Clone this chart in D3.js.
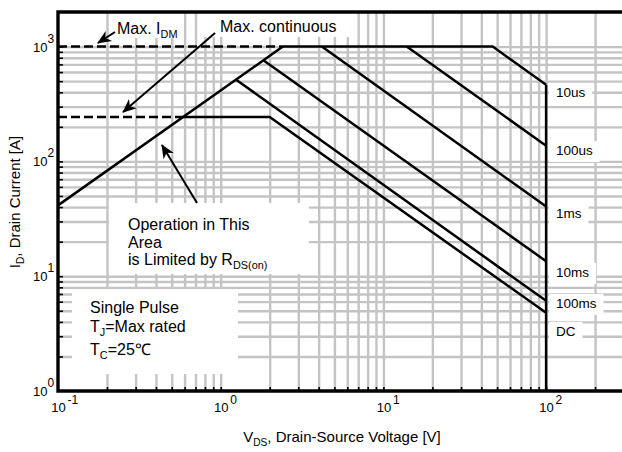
<!DOCTYPE html>
<html>
<head>
<meta charset="utf-8">
<script src="https://cdn.jsdelivr.net/npm/d3@7"></script>
<style>
  body { margin: 0; background: #fff; }
  text { font-family: 'Liberation Sans', Arial, sans-serif; fill: #000; }
</style>
</head>
<body>
<div id="chart"></div>
<script>
// tick exponents for the log axes
const xTickExps = [-1, 0, 1, 2]
const yTickExps = [0, 1, 2, 3]

// limits [V, A]
const rdsLimit = [[0.1, 41.4], [2.41, 1000]]
const idmLimit = [[0.1, 1000], [2.41, 1000]]
const contLimit = [[0.1, 244], [0.59, 244]]
const bvLimit = [[100, 465], [100, 1]]

const curveLabels = ['10us', '100us', '1ms', '10ms', '100ms', 'DC']
const curvePoints = [
  [[2.41, 1000], [47, 1000], [100, 465]],
  [[13.9, 1000], [100, 137]],
  [[4.18, 1000], [100, 40.5]],
  [[1.82, 765], [100, 13.5]],
  [[1.25, 512], [100, 6.1]],
  [[0.59, 244], [2.0, 244], [100, 4.8]]
]

const width = 622
const height = 452

const svg = d3
  .select('#chart')
  .append('svg')
  .attr('width', width)
  .attr('height', height)

const x = d3
  .scaleLog()
  .domain([0.1, 300])
  .range([58, 58 + 162.7 * Math.log10(3000)])

const y = d3
  .scaleLog()
  .domain([1, 2000])
  .range([391, 391 - 114.8 * Math.log10(2000)])

const plotLeft = x(0.1)
const plotRight = 624
const plotTop = y(2000)
const plotBottom = y(1)

// minor grid values
const xGrid = []
d3.range(-1, 3).forEach(e => {
  d3.range(1, 10).forEach(k => {
    const v = k * Math.pow(10, e)
    if (v > 0.1 && v <= 300) xGrid.push(v)
  })
})
const yGrid = []
d3.range(0, 4).forEach(e => {
  d3.range(1, 10).forEach(k => {
    const v = k * Math.pow(10, e)
    if (v > 1 && v < 2000) yGrid.push(v)
  })
})

// grid
svg
  .append('g')
  .attr('class', 'grid')
  .attr('transform', 'translate(0,' + plotBottom + ')')
  .call(
    d3
      .axisBottom(x)
      .tickValues(xGrid)
      .tickSize(-(plotBottom - plotTop))
      .tickFormat('')
  )
svg
  .append('g')
  .attr('class', 'grid')
  .attr('transform', 'translate(' + plotLeft + ',0)')
  .call(
    d3
      .axisLeft(y)
      .tickValues(yGrid)
      .tickSize(-(plotRight - plotLeft))
      .tickFormat('')
  )
svg.selectAll('.grid .domain').remove()
svg.selectAll('.grid text').remove()
svg
  .selectAll('.grid line')
  .attr('stroke', '#c4c4c4')
  .attr('stroke-width', 2.4)

// white boxes over the grid
const boxes = [
  [110, 12, 74, 26],
  [202, 12, 150, 25],
  [109, 203, 200, 71],
  [72, 289, 166, 85]
]
svg
  .selectAll('.box')
  .data(boxes)
  .enter()
  .append('rect')
  .attr('class', 'box')
  .attr('x', d => d[0])
  .attr('y', d => d[1])
  .attr('width', d => d[2])
  .attr('height', d => d[3])
  .attr('fill', '#fff')

// black inward ticks
svg
  .append('g')
  .attr('class', 'ticks')
  .attr('transform', 'translate(0,' + plotBottom + ')')
  .call(
    d3
      .axisBottom(x)
      .tickValues(xGrid)
      .tickSize(-4)
      .tickFormat('')
  )
svg
  .append('g')
  .attr('class', 'ticks')
  .attr('transform', 'translate(' + plotLeft + ',0)')
  .call(
    d3
      .axisLeft(y)
      .tickValues(yGrid)
      .tickSize(-5)
      .tickFormat('')
  )
svg.selectAll('.ticks .domain').remove()
svg.selectAll('.ticks text').remove()
svg
  .selectAll('.ticks line')
  .attr('stroke', '#000')
  .attr('stroke-width', 1.6)

// curve labels on the right
const labelBaselines = [97, 155, 218, 277, 308, 336]
const labels = svg
  .selectAll('.curve-label')
  .data(curveLabels)
  .enter()
  .append('g')
  .attr('class', 'curve-label')
labels
  .append('rect')
  .attr('fill', '#fff')
labels
  .append('text')
  .attr('x', 556)
  .attr('y', (d, i) => labelBaselines[i])
  .attr('font-size', 13.5)
  .text(d => d)
labels.each(function(d, i) {
  const w = d3.select(this).select('text').node().getComputedTextLength()
  d3.select(this)
    .select('rect')
    .attr('x', 549)
    .attr('y', labelBaselines[i] - 14)
    .attr('width', w + 14)
    .attr('height', 21)
})

const line = d3
  .line()
  .x(d => x(d[0]))
  .y(d => y(d[1]))

// limit lines
svg
  .selectAll('.soa')
  .data(curvePoints.concat([rdsLimit, bvLimit]))
  .enter()
  .append('path')
  .attr('class', 'soa')
  .attr('d', line)
  .attr('fill', 'none')
  .attr('stroke', '#000')
  .attr('stroke-width', 2.5)
  .attr('stroke-linejoin', 'miter')

svg
  .selectAll('.dashed')
  .data([idmLimit, contLimit])
  .enter()
  .append('path')
  .attr('class', 'dashed')
  .attr('d', line)
  .attr('fill', 'none')
  .attr('stroke', '#000')
  .attr('stroke-width', 2.5)
  .attr('stroke-dasharray', '9,4')

// frame
svg
  .append('path')
  .attr('d', 'M' + plotRight + ',' + plotTop + 'H' + plotLeft + 'V' + plotBottom + 'H' + plotRight)
  .attr('fill', 'none')
  .attr('stroke', '#000')
  .attr('stroke-width', 3.4)

// arrows (tail -> tip, in V / A)
svg
  .append('defs')
  .append('marker')
  .attr('id', 'head')
  .attr('markerUnits', 'userSpaceOnUse')
  .attr('markerWidth', 16)
  .attr('markerHeight', 16)
  .attr('viewBox', '-14 -7 16 14')
  .attr('refX', 0)
  .attr('refY', 0)
  .attr('orient', 'auto')
  .append('path')
  .attr('d', 'M1,0 L-13,-6 L-9,0 L-13,6 Z')
  .attr('fill', '#000')

const arrows = [
  [[0.224, 1340], [0.176, 1075]],
  [[0.923, 1313], [0.251, 269]],
  [[0.715, 43.4], [0.4355, 139]]
]
svg
  .selectAll('.arrow')
  .data(arrows)
  .enter()
  .append('path')
  .attr('class', 'arrow')
  .attr('d', line)
  .attr('stroke', '#000')
  .attr('stroke-width', 2)
  .attr('marker-end', 'url(#head)')

// annotation texts, subscripts as {sub: '..'}
function addText(xp, yp, parts, size) {
  const t = svg
    .append('text')
    .attr('x', xp)
    .attr('y', yp)
    .attr('font-size', size)
  let shifted = false
  parts.forEach(p => {
    if (typeof p === 'string') {
      t.append('tspan')
        .attr('dy', shifted ? -4 : 0)
        .text(p)
      shifted = false
    } else {
      t.append('tspan')
        .attr('dy', 4)
        .attr('font-size', size * 0.68)
        .text(p.sub)
      shifted = true
    }
  })
  return t
}

addText(117, 34, ['Max. I', { sub: 'DM' }], 16)
addText(220, 32, ['Max. continuous'], 16)
addText(128, 230, ['Operation in This'], 16)
addText(128, 248, ['Area'], 16)
addText(128, 265, ['is Limited by R', { sub: 'DS(on)' }], 16)
addText(90, 313, ['Single Pulse'], 16)
addText(90, 332, ['T', { sub: 'J' }, '=Max rated'], 16)
addText(90, 355, ['T', { sub: 'C' }, '=25\u2103'], 16)

// tick labels
svg
  .selectAll('.xlab')
  .data(xTickExps)
  .enter()
  .append('text')
  .attr('class', 'xlab')
  .attr('x', d => x(Math.pow(10, d)) + 0.5)
  .attr('y', 412)
  .attr('text-anchor', 'middle')
  .attr('font-size', 13)
  .text('10')
svg
  .selectAll('.xsup')
  .data(xTickExps)
  .enter()
  .append('text')
  .attr('class', 'xsup')
  .attr('x', d => x(Math.pow(10, d)) + 9.5)
  .attr('y', 404)
  .attr('font-size', 12)
  .text(d => d)

svg
  .selectAll('.ylab')
  .data(yTickExps)
  .enter()
  .append('text')
  .attr('class', 'ylab')
  .attr('x', 47.5)
  .attr('y', d => y(Math.pow(10, d)) + 5)
  .attr('text-anchor', 'end')
  .attr('font-size', 13)
  .text('10')
svg
  .selectAll('.ysup')
  .data(yTickExps)
  .enter()
  .append('text')
  .attr('class', 'ysup')
  .attr('x', 47.5)
  .attr('y', d => y(Math.pow(10, d)) - 4)
  .attr('font-size', 12)
  .text(d => d)

// axis titles
addText(0, 442, ['V', { sub: 'DS' }, ', Drain-Source Voltage [V]'], 15)
  .attr('x', 342)
  .attr('text-anchor', 'middle')

addText(0, 0, ['I', { sub: 'D' }, ', Drain Current [A]'], 15)
  .attr('text-anchor', 'middle')
  .attr('transform', 'translate(20,202) rotate(-90)')
</script>
</body>
</html>
